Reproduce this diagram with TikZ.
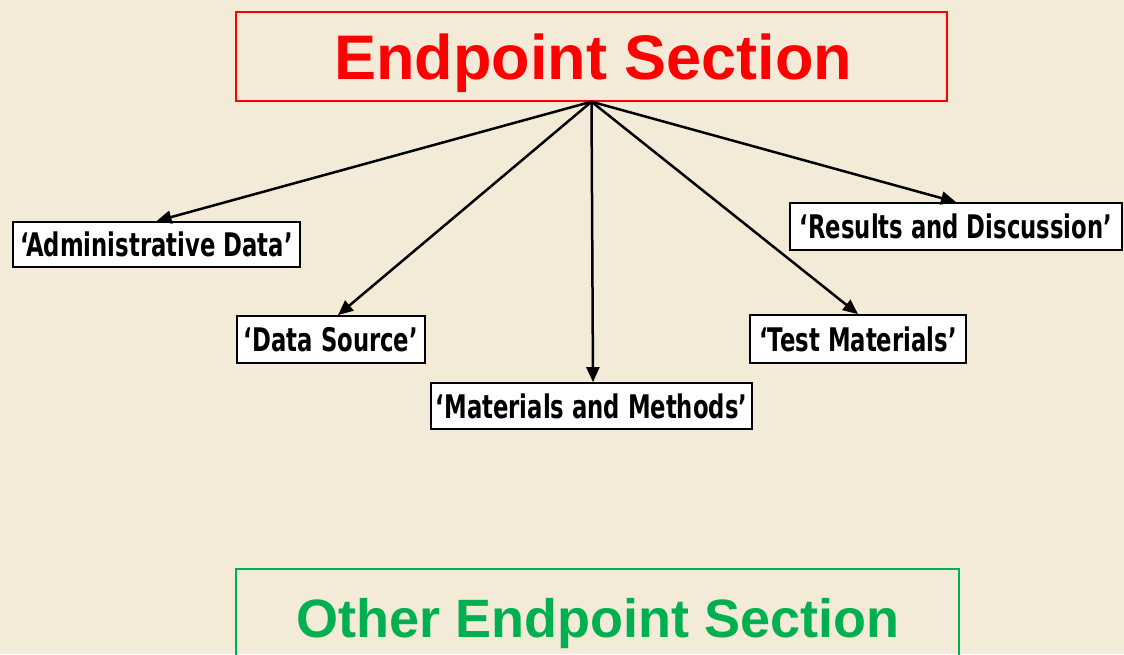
\documentclass[tikz,border=0pt]{standalone}
\usepackage{fontspec}
\setmainfont{Liberation Sans}
\newfontfamily\labfont[FakeStretch=0.70]{DejaVu Sans}
\usetikzlibrary{arrows.meta}
\definecolor{parch}{RGB}{243,235,216}
\definecolor{titlered}{RGB}{255,0,0}
\definecolor{othergreen}{RGB}{0,176,80}
\tikzset{
  labbox/.style={draw=black, line width=1.8pt, fill=white, inner sep=1pt, align=center,
     font=\labfont\bfseries\fontsize{32.5}{35}\selectfont, text=black},
  conn/.style={line width=2.5pt, -{Triangle[length=15pt,width=13pt]}},
  titlebox/.style={draw=titlered, line width=1.4pt, inner sep=0pt},
  otherbox/.style={draw=othergreen, line width=1.4pt, inner sep=0pt}
}
\begin{document}
\begin{tikzpicture}[x=1pt,y=-1pt]
\fill[parch] (0,0) rectangle (1124,654);
\useasboundingbox (0,0) rectangle (1124,654);
\node[titlebox, minimum width=711pt, minimum height=89pt] (title) at (591.5,56.5) {};
\node[text=titlered, font=\bfseries\fontsize{63}{70}\selectfont] (titletext) at (593,63) {Endpoint Section};
\node[labbox, minimum width=287pt, minimum height=45pt] (admin) at (156.5,244.5) {‘Administrative Data’};
\node[labbox, minimum width=188pt, minimum height=47pt] (source) at (331,339.5) {‘Data Source’};
\node[labbox, minimum width=321pt, minimum height=46pt] (methods) at (591.5,406) {‘Materials and Methods’};
\node[labbox, minimum width=216pt, minimum height=48pt] (test) at (858,339) {‘Test Materials’};
\node[labbox, minimum width=332pt, minimum height=47pt] (results) at (956,226.5) {‘Results and Discussion’};
\draw[conn] (title.south) -- (admin.north);
\draw[conn] (title.south) -- ([xshift=7pt]source.north);
\draw[conn] (title.south) -- ([xshift=1.5pt]methods.north);
\draw[conn] (title.south) -- (test.north);
\draw[conn] (title.south) -- (results.north);
\draw[otherbox] (236,680) |- (959,569) -- (959,680);
\node[text=othergreen, font=\bfseries\fontsize{54}{60}\selectfont] (othertext) at (598,624) {Other Endpoint Section};
\end{tikzpicture}
\end{document}
